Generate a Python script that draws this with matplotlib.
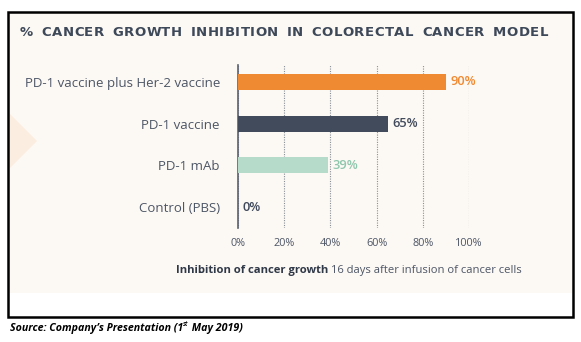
import matplotlib
matplotlib.use('Agg')
import matplotlib.pyplot as plt
from matplotlib.patches import Rectangle, Polygon

# chart data
categories = ['PD-1 vaccine plus Her-2 vaccine', 'PD-1 vaccine', 'PD-1 mAb', 'Control (PBS)']
inhibition = [90, 65, 39, 0]
bar_colors = ['#f08a32', '#414b5c', '#b7dbcb', '#414b5c']
label_colors = ['#f08a32', '#414b5c', '#8fc7ad', '#414b5c']
x_ticks = [0, 20, 40, 60, 80, 100]
title = '% CANCER GROWTH INHIBITION IN COLORECTAL CANCER MODEL'
xlabel_bold = 'Inhibition of cancer growth'
xlabel_rest = ' 16 days after infusion of cancer cells'

W, H = 581, 342
plt.rcParams['font.family'] = ['Open Sans', 'DejaVu Sans']
fig = plt.figure(figsize=(W / 100, H / 100), dpi=100)


def fx(px):
    return px / W


def fy(py):
    return 1 - py / H


# cream panel, decorative triangle and black frame
fig.patches.append(Rectangle((fx(9), fy(293)), fx(572) - fx(9), fy(13) - fy(293),
                             transform=fig.transFigure, facecolor='#fcf8f3',
                             edgecolor='none', zorder=-2))
fig.patches.append(Polygon([(fx(9), fy(113)), (fx(37), fy(141)), (fx(9), fy(169))],
                           transform=fig.transFigure, facecolor='#fbeee1',
                           edgecolor='none', zorder=-1))
fig.patches.append(Rectangle((fx(8), fy(317)), fx(573) - fx(8), fy(12) - fy(317),
                             transform=fig.transFigure, fill=False,
                             edgecolor='black', linewidth=1.8, zorder=5))

# title with wide letter spacing: place each character by hand
renderer = fig.canvas.get_renderer()
title_kw = dict(fontsize=9.5, fontweight='bold', color='#3d4859', va='center',
                family='DejaVu Sans')
widths = []
for ch in title:
    t = fig.text(0, 0, ch if ch != ' ' else 'n', **title_kw)
    w = t.get_window_extent(renderer).width
    widths.append(w * 0.8 if ch == ' ' else w)
    t.remove()
x0, x1 = 20, 548
track = (x1 - x0 - sum(widths)) / (len(title) - 1)
x = x0
for ch, w in zip(title, widths):
    if ch != ' ':
        fig.text(fx(x), fy(33), ch, **title_kw)
    x += w + track

# bar chart
ax = fig.add_axes([fx(238), fy(228), fx(469) - fx(238), fy(65) - fy(228)], zorder=1)
ax.set_facecolor('none')
ypos = list(range(len(categories)))
ax.barh(ypos, inhibition, height=0.39, color=bar_colors, zorder=3)
ax.set_xlim(0, 100)
ax.set_ylim(3 + 21 / 41.67, -17 / 41.67)

for i, v in enumerate(inhibition):
    ax.annotate(f'{v}%', xy=(v, i), xytext=(3, 0), textcoords='offset points',
                va='center', ha='left', fontsize=9.3, fontweight='semibold',
                color=label_colors[i])

ax.set_xticks(x_ticks)
ax.set_xticklabels([f'{t}%' for t in x_ticks])
ax.set_yticks(ypos)
ax.set_yticklabels(categories)
ax.tick_params(axis='both', length=0, colors='#4d5666', labelsize=9.5)
ax.tick_params(axis='x', pad=7, labelsize=7.8)
ax.tick_params(axis='y', pad=13)
ax.xaxis.grid(True, linestyle=(0, (1, 1.2)), color='#8a8f96', linewidth=0.8)
ax.set_axisbelow(True)
for s in ['top', 'right', 'bottom']:
    ax.spines[s].set_visible(False)
ax.spines['left'].set_color('#5a6270')
ax.spines['left'].set_linewidth(1.2)

# x axis caption: bold part then normal part
t1 = fig.text(fx(176), fy(270), xlabel_bold, fontsize=8.1, fontweight='bold',
              color='#2f3847', va='center', ha='left')
ax.annotate(xlabel_rest, xy=(1, 0.5), xycoords=t1, va='center', ha='left',
            fontsize=8.1, color='#4d5666', annotation_clip=False)

# source note under the frame
src_kw = dict(fontsize=7.65, fontweight='bold', fontstyle='italic', color='black')
s1 = fig.text(fx(10), fy(331), 'Source: Company\u2019s Presentation (1', va='baseline', **src_kw)
s2 = ax.annotate('st', xy=(1, 0.55), xycoords=s1, va='bottom', ha='left',
                 fontsize=4.8, fontweight='semibold', fontstyle='italic', annotation_clip=False)
ax.annotate(' May 2019)', xy=(1, 0), xycoords=(s2, s1), va='bottom', ha='left',
            annotation_clip=False, **src_kw)

fig.savefig('out.png', dpi=100)
